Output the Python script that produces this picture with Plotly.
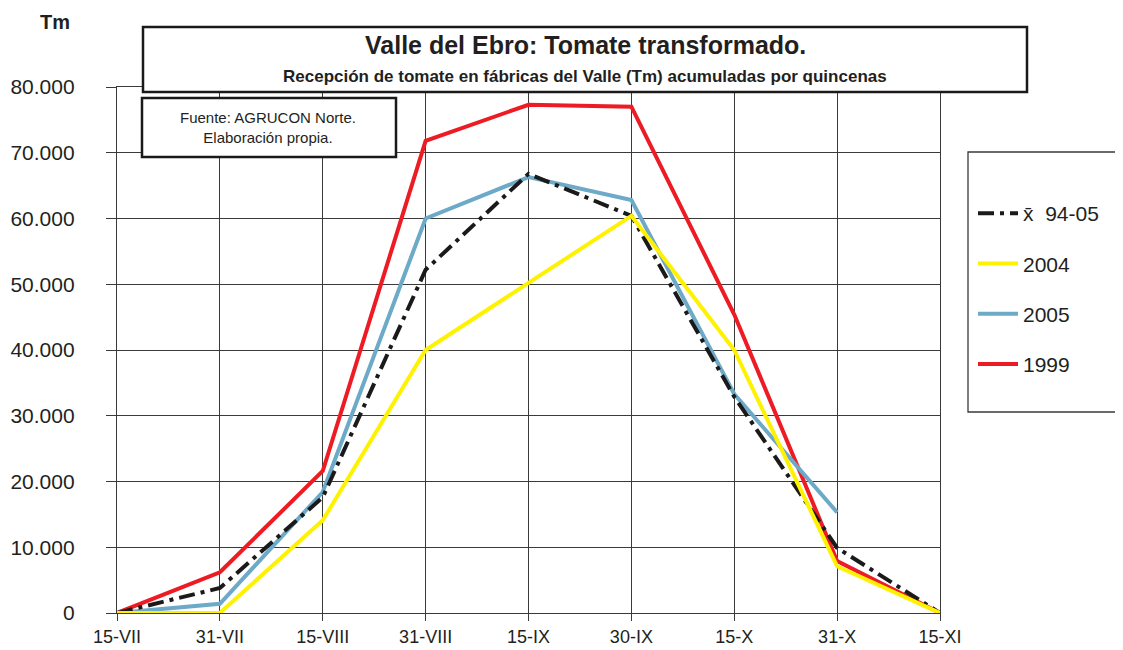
import plotly.graph_objects as go

categories = ["15-VII", "31-VII", "15-VIII", "31-VIII", "15-IX", "30-IX", "15-X", "31-X", "15-XI"]
mean_94_05 = [0, 3800, 17600, 52200, 66800, 60400, 32900, 9900, 0]
y2004 = [0, 0, 14100, 40000, 50200, 60400, 40000, 7100, 0]
y2005 = [0, 1400, 18400, 60000, 66300, 62800, 33300, 15300, None]
y1999 = [0, 6200, 21600, 71800, 77300, 77000, 45400, 7900, 0]
y_ticks = [0, 10000, 20000, 30000, 40000, 50000, 60000, 70000, 80000]

FONT = "Liberation Sans, Arial, Helvetica, sans-serif"
TXT = "#231f20"
GRID = "#3a3a3a"

# page body margin in the browser is 8px; figure sized to fill the window
OFF = 8
PAGE_W, PAGE_H = 1123, 650
W, H = PAGE_W - OFF, PAGE_H - OFF
L, R, T, B = 117, 940, 87, 613   # plot area in page pixels

def px(x):
    return (x - L) / (R - L)

def py(y):
    return (B - y) / (B - T)

fig = go.Figure()
fig.add_trace(go.Scatter(x=categories, y=y1999, name="1999", mode="lines",
                         line=dict(color="#ED1C24", width=4), legendrank=4, legendgroup="d"))
fig.add_trace(go.Scatter(x=categories, y=y2005, name="2005", mode="lines",
                         line=dict(color="#6DAAC8", width=4), legendrank=3, legendgroup="c"))
fig.add_trace(go.Scatter(x=categories, y=mean_94_05, name="x\u0304  94-05", mode="lines",
                         line=dict(color="#1a1a1a", width=4, dash="16px,6px,4px,6px"),
                         legendrank=1, legendgroup="a"))
fig.add_trace(go.Scatter(x=categories, y=y2004, name="2004", mode="lines",
                         line=dict(color="#FFF200", width=4), legendrank=2, legendgroup="b"))

fig.update_layout(
    width=W, height=H,
    margin=dict(l=L - OFF, r=PAGE_W - R, t=T - OFF, b=PAGE_H - B, pad=0, autoexpand=False),
    paper_bgcolor="white", plot_bgcolor="white",
    separators=",.",
    font=dict(family=FONT, color=TXT, size=18),
    showlegend=True,
    legend=dict(x=px(973), y=py(193), xanchor="left", yanchor="top",
                bgcolor="rgba(0,0,0,0)", borderwidth=0,
                font=dict(family=FONT, size=21, color=TXT),
                tracegroupgap=20, itemwidth=40, traceorder="grouped"),
)
fig.update_xaxes(
    type="category", range=[0, len(categories) - 1], automargin=False,
    showgrid=True, gridcolor=GRID, gridwidth=1.3,
    ticks="outside", ticklen=7, tickcolor=GRID, tickwidth=1.3,
    showline=True, linecolor=GRID, linewidth=1.3, mirror=True,
    tickfont=dict(family=FONT, size=18, color=TXT),
    ticklabelstandoff=0,
)
fig.update_yaxes(
    range=[0, 80000], tickvals=y_ticks, tickformat=",d", automargin=False,
    showgrid=True, gridcolor=GRID, gridwidth=1.3,
    zeroline=True, zerolinecolor="#1a1a1a", zerolinewidth=1.5,
    ticks="outside", ticklen=10, tickcolor=GRID, tickwidth=1.3,
    showline=True, linecolor=GRID, linewidth=1.3, mirror=True,
    tickfont=dict(family=FONT, size=21, color=TXT),
    ticklabelstandoff=27,
)

# title box
fig.add_shape(type="rect", xref="paper", yref="paper",
              x0=px(143), x1=px(1027), y0=py(92), y1=py(27),
              line=dict(color="#1a1a1a", width=2.5), fillcolor="white", layer="above")
# source box
fig.add_shape(type="rect", xref="paper", yref="paper",
              x0=px(142), x1=px(396), y0=py(157), y1=py(98),
              line=dict(color="#1a1a1a", width=2.5), fillcolor="white", layer="above")
# legend box
fig.add_shape(type="rect", xref="paper", yref="paper",
              x0=px(968), x1=px(1122), y0=py(412), y1=py(152),
              line=dict(color=GRID, width=1.3), fillcolor="rgba(0,0,0,0)", layer="above")

fig.add_annotation(xref="paper", yref="paper", x=px(585), y=py(45),
                   text="<b>Valle del Ebro: Tomate transformado.</b>", showarrow=False,
                   font=dict(family=FONT, size=25, color=TXT), xanchor="center", yanchor="middle")
fig.add_annotation(xref="paper", yref="paper", x=px(585), y=py(76),
                   text="<b>Recepción de tomate en fábricas del Valle (Tm) acumuladas por quincenas</b>",
                   showarrow=False, font=dict(family=FONT, size=17, color=TXT),
                   xanchor="center", yanchor="middle")
fig.add_annotation(xref="paper", yref="paper", x=px(268), y=py(127),
                   text="Fuente: AGRUCON Norte.<br>Elaboración propia.", showarrow=False,
                   font=dict(family=FONT, size=15, color=TXT), xanchor="center", yanchor="middle")
fig.add_annotation(xref="paper", yref="paper", x=px(55), y=py(22),
                   text="<b>Tm</b>", showarrow=False,
                   font=dict(family=FONT, size=20, color=TXT), xanchor="center", yanchor="middle")

fig.write_html("out.html")
